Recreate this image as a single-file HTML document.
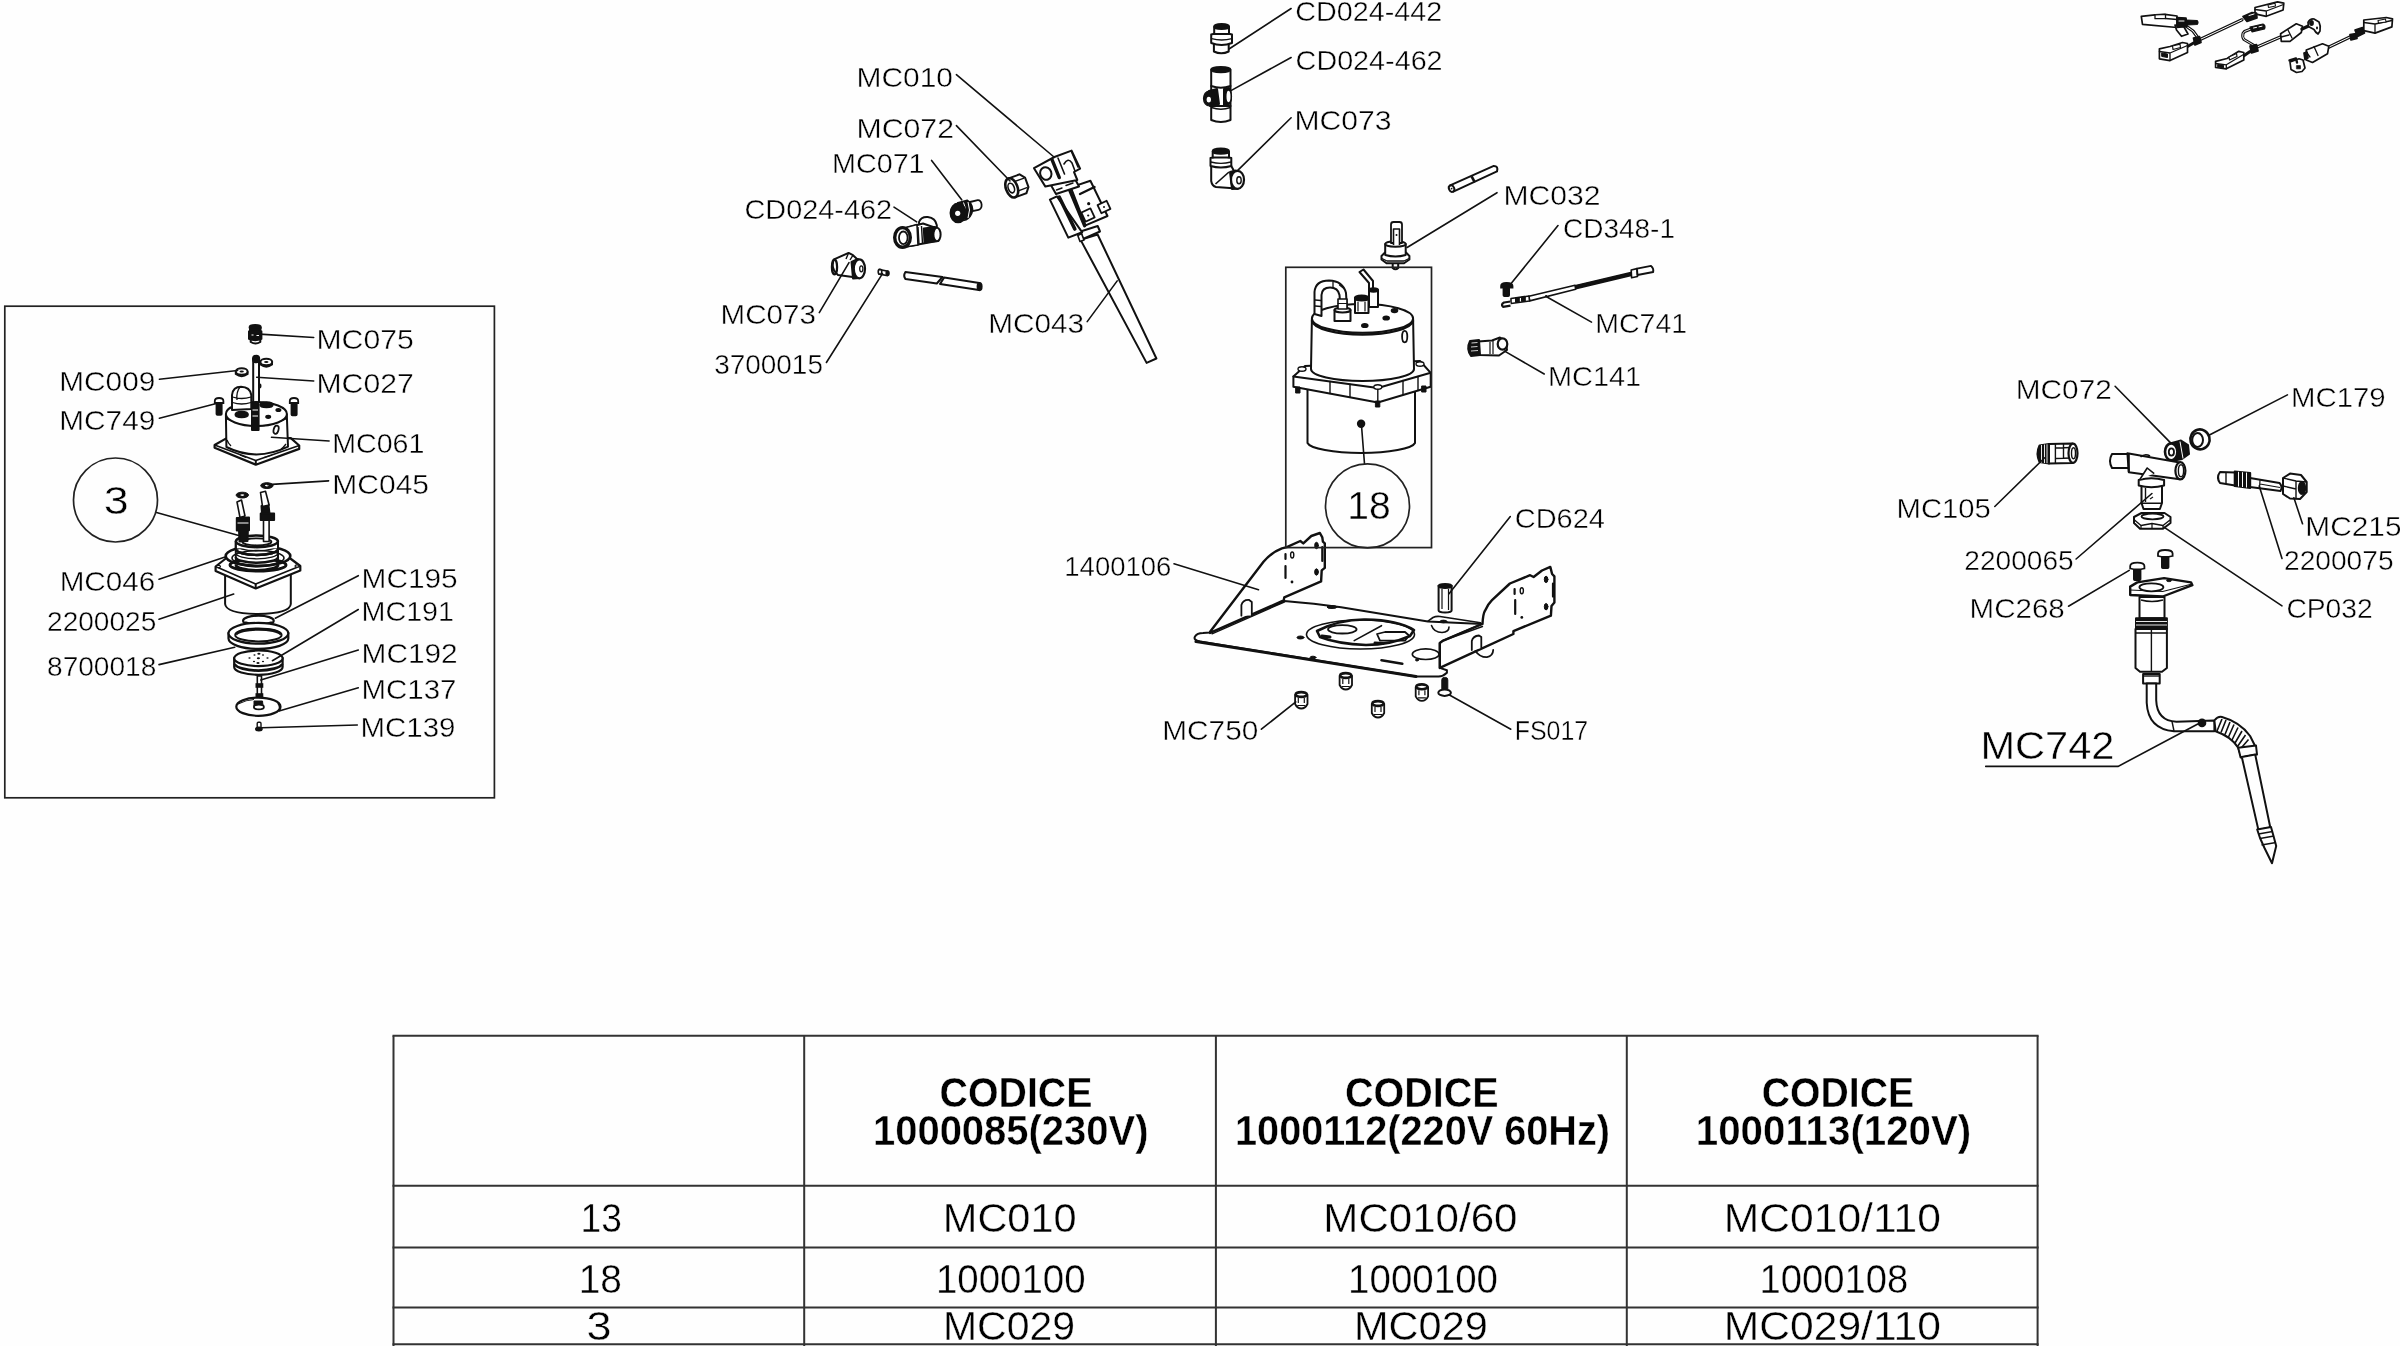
<!DOCTYPE html>
<html><head><meta charset="utf-8"><title>Exploded parts diagram</title>
<style>
html,body{margin:0;padding:0;background:#fefefe;}
body{width:2400px;height:1346px;overflow:hidden;}
svg{display:block;will-change:transform;}
text{font-family:"Liberation Sans",sans-serif;fill:#000;stroke:#fff;stroke-width:0.4px;paint-order:fill;}
.l{font-size:27.6px;}
.b{font-size:38.5px;}
.th{font-size:42px;font-weight:bold;}
.td{font-size:41px;}
</style></head><body>
<svg width="2400" height="1346" viewBox="0 0 2400 1346">
<rect width="2400" height="1346" fill="#fefefe"/>

<g id="boiler" stroke="#111" stroke-width="2" fill="#fff" stroke-linejoin="round" stroke-linecap="round">
 <!-- lower cylinder -->
 <path d="M1307.5,388 L1307.5,443 A54,11 0 0 0 1415,443 L1415,388 Z"/>
 <!-- flange -->
 <path d="M1293.4,376.5 L1305,366 L1420,361 L1430.7,372.8 L1430.7,386.7 L1377.8,402.5 L1293.4,386.7 Z"/>
 <path d="M1293.4,376.5 L1377.8,388 L1430.7,372.8" fill="none"/>
 <path d="M1377.8,388 L1377.8,402.5 M1330,381.5 L1330,393.5 M1350,384.3 L1350,397 M1403,380.5 L1403,394.5 M1418,376.5 L1418,390.5" fill="none" stroke-width="1.4"/>
 <ellipse cx="1302" cy="369" rx="4" ry="2.2" stroke-width="1.4"/>
 <ellipse cx="1420" cy="364" rx="4" ry="2.2" stroke-width="1.4"/>
 <ellipse cx="1377.8" cy="387" rx="4" ry="2.2" stroke-width="1.4"/>
 <rect x="1296" y="387" width="4" height="6" fill="#111" stroke-width="1"/>
 <rect x="1375.8" y="401" width="4" height="6" fill="#111" stroke-width="1"/>
 <rect x="1422" y="386" width="4" height="6" fill="#111" stroke-width="1"/>
 <!-- upper cylinder -->
 <path d="M1311.9,319 L1311,369 A51.5,12 0 0 0 1414,369 L1413.1,319 Z"/>
 <ellipse cx="1362.5" cy="318.4" rx="50.6" ry="14.4"/>
 <path d="M1312,321 A50.6,14.4 0 0 0 1413,321" fill="none" stroke-width="2.4"/>
 <ellipse cx="1404.7" cy="336.6" rx="2.6" ry="5.8" stroke-width="1.8"/>
 <ellipse cx="1394.5" cy="310.6" rx="2.8" ry="1.6" fill="#111"/>
 <ellipse cx="1386.2" cy="318" rx="2.8" ry="1.6" fill="#111"/>
 <ellipse cx="1364.8" cy="325.5" rx="2.8" ry="1.6" fill="#111"/>
 <!-- loop terminal -->
 <path d="M1314.5,314 L1314.5,292 Q1315.5,280.5 1329,280.5 Q1343,281 1346,293 L1347,309 L1340.5,309 L1339.5,295 Q1338,287.5 1330,287.5 Q1322,287.5 1321.5,295 L1321.5,316 Z" stroke-width="2"/>
 <path d="M1315,300 L1321,300.5 M1315,306 L1321,306.5 M1333,282 L1333,288 M1339.5,285 L1344.5,289" fill="none" stroke-width="1.3"/>
 <path d="M1334.5,310 L1350.5,310 L1350.5,321 L1334.5,321 Z"/>
 <ellipse cx="1342.5" cy="310" rx="8" ry="2.5"/>
 <path d="M1338,299 L1347,299 L1347,309 L1338,309 Z" stroke-width="1.6"/>
 <path d="M1338,303.5 L1347,303.5" fill="none" stroke-width="1.2"/>
 <!-- middle nut -->
 <path d="M1355,298 L1368.5,298 L1368.5,313 L1355,313 Z"/>
 <ellipse cx="1361.7" cy="298" rx="6.8" ry="2.5" fill="#111"/>
 <path d="M1358,302 L1358,311 M1365,302 L1365,311" fill="none" stroke-width="1.2"/>
 <!-- right terminal strip -->
 <path d="M1359.5,272 L1363.5,269.5 L1373,281 L1373,295 L1369,297 L1369,283 Z"/>
 <path d="M1369,290 L1378,290 L1378,307 L1369,307 Z"/>
 <ellipse cx="1373.5" cy="290" rx="4.5" ry="1.8" fill="#111"/>
 <!-- dot -->
 <circle cx="1361.1" cy="423.8" r="4.2" fill="#111" stroke="none"/>
</g>
<g id="thermostat" stroke="#111" stroke-width="2" fill="#fff" stroke-linejoin="round">
 <path d="M1392.7,262 L1392.7,268 Q1395.5,270.5 1398.2,268 L1398.2,262 Z"/>
 <path d="M1381.5,256 L1385,252.5 L1406,252.5 L1409.4,256 L1409.4,259.5 L1404,263.3 L1386.5,263.3 L1381.5,259.5 Z"/>
 <path d="M1382,258.5 L1387,261 L1404,261 L1409,258.5" fill="none" stroke-width="1.3"/>
 <path d="M1385.2,244 L1385.2,255 Q1395.5,258 1405.7,255 L1405.7,244 Z"/>
 <ellipse cx="1395.5" cy="244" rx="10.2" ry="2.8"/>
 <path d="M1391,243 L1391,224.5 Q1391,222 1393.5,222 L1399.5,222 Q1402,222 1402,224.5 L1402,243 Z" stroke-width="1.8"/>
 <path d="M1393.5,245 L1393.5,229 L1399.5,229 L1399.5,245" stroke-width="1.6"/>
 <circle cx="1396.5" cy="235" r="1" fill="#111" stroke="none"/>
</g>

<g id="harness" stroke="#111" stroke-width="1.7" fill="#fff" stroke-linejoin="round" stroke-linecap="round">
 <!-- wires (double lines) -->
 <g fill="none">
  <path d="M2186,26 L2193,31 L2198.5,38.5" stroke-width="3.2"/>
  <path d="M2186,26 L2193,31 L2198.5,38.5" stroke="#fff" stroke-width="1"/>
  <path d="M2199,40 L2242,19.8" stroke-width="3.2"/>
  <path d="M2199,40 L2242,19.8" stroke="#fff" stroke-width="1"/>
  <path d="M2187.5,46.5 L2197,41" stroke-width="3"/>
  <path d="M2256,47.5 L2281.5,36.5" stroke-width="3.2"/>
  <path d="M2256,47.5 L2281.5,36.5" stroke="#fff" stroke-width="1"/>
  <path d="M2255,46 L2244,39.5 Q2242,37 2243,33.5 L2244.5,31.5 L2251,29" stroke-width="3"/>
  <path d="M2255,46 L2244,39.5 Q2242,37 2243,33.5 L2244.5,31.5 L2251,29" stroke="#fff" stroke-width="0.9"/>
  <path d="M2328,47.5 L2351,36.5" stroke-width="3.2"/>
  <path d="M2328,47.5 L2351,36.5" stroke="#fff" stroke-width="1"/>
  <path d="M2243.5,56 L2250,51.5" stroke-width="3"/>
 </g>
 <!-- junction sleeves -->
 <path d="M2193.5,38 L2199.5,36.5 L2201,42.5 L2195,45 Z" fill="#111"/>
 <path d="M2250,46 L2256.5,44.5 L2258,51 L2251.5,53 Z" fill="#111"/>
 <path d="M2350,34.5 L2356,33.5 L2357,38.5 L2351,40 Z" fill="#111"/>
 <!-- connector A -->
 <path d="M2141.3,16.3 L2155,14.8 L2165,14.4 L2177,16 L2177,27.5 L2142.5,24.4 Z"/>
 <path d="M2155,14.8 L2165.5,14.4 L2165.5,18.5 L2155,18.7 Z" stroke-width="1.3"/>
 <path d="M2165.5,18.5 L2177,19.5" fill="none" stroke-width="1.3"/>
 <path d="M2175,25 L2184,27 L2188,34 L2181.5,36.3 L2176.5,30 Z"/>
 <path d="M2177,17.5 L2186,18 L2187,26.5 L2177,27.5 Z" fill="#111"/>
 <path d="M2186,20 L2197,20.5 Q2199,22.5 2197,24.5 L2187,25 Z" fill="#111" stroke-width="1.2"/>
 <path d="M2179,21 L2184,21" stroke="#fff" stroke-width="1"/>
 <!-- connector B -->
 <path d="M2159.4,48.8 L2170,46.5 L2182.5,42.5 L2187.5,43.5 L2187.5,52.5 L2170,60.6 L2159.4,58.8 Z"/>
 <path d="M2159.4,51.5 L2170,53 L2187.5,45.5 M2170,53 L2170,60.5" fill="none" stroke-width="1.3"/>
 <path d="M2172.5,46 L2180,44.2 L2180.5,47.5 L2173,49.5 Z" stroke-width="1.2"/>
 <path d="M2162,53 L2167.5,54 L2167.5,57.5 L2162,56.5 Z" fill="#111" stroke-width="1"/>
 <!-- connector C -->
 <path d="M2255,7.5 L2277.5,1.9 L2283.8,3.1 L2283.1,10 L2266.3,16.3 L2255,13.8 Z"/>
 <path d="M2255,9.5 L2266.3,11 L2283.5,4.5 M2266.3,11 L2266.3,16.3" fill="none" stroke-width="1.3"/>
 <path d="M2268,5 L2275,3.3 L2275.5,6 L2268.5,7.5 Z" stroke-width="1.1"/>
 <path d="M2243,16.5 L2252,12.5 L2256.5,13 L2257,18 L2247,21.5 Z" fill="#111"/>
 <path d="M2249,15.5 L2254,14" stroke="#fff" stroke-width="1"/>
 <!-- connector D -->
 <path d="M2215.6,61.3 L2227,58.5 L2238.8,51.3 L2243.8,52.5 L2243.8,60 L2226.3,68.8 L2215.6,67.5 Z"/>
 <path d="M2215.6,63.5 L2226.3,64.8 L2243.5,54.5 M2226.3,64.8 L2226.3,68.8" fill="none" stroke-width="1.3"/>
 <path d="M2229,57 L2236.5,53.5 L2237,56.5 L2229.5,60 Z" stroke-width="1.2"/>
 <path d="M2218,64.5 L2223.5,65.3 L2223.5,67.8 L2218,67 Z" fill="#111" stroke-width="1"/>
 <!-- small tabs (harness 2) -->
 <path d="M2250,27 L2263,24 Q2266,25.5 2264.5,29 L2252,31.8 Z" fill="#111" stroke-width="1.2"/>
 <path d="M2253.5,28 L2256.5,27.4 M2259,26.8 L2262,26.2" stroke="#fff" stroke-width="1"/>
 <!-- sleeve E -->
 <path d="M2280.6,33.8 L2296.3,23.8 L2302.5,26.3 L2301.3,32.5 L2290,41.3 L2281.3,41.3 Z"/>
 <path d="M2288,30 L2292,38 M2281,37 L2289,35" fill="none" stroke-width="1.3"/>
 <path d="M2302,29 L2308.5,26" fill="none" stroke-width="3.4"/>
 <!-- ring terminal -->
 <path d="M2308,22.5 Q2310,18.5 2314,19 L2319,22 Q2321,26 2320,31 L2318,34 Q2315.5,32.5 2314,29.5 L2308.5,26.5 Z"/>
 <ellipse cx="2311.5" cy="23" rx="2.4" ry="3" fill="#111" stroke="none"/>
 <ellipse cx="2317" cy="28" rx="1" ry="1.4" fill="#111" stroke="none"/>
 <!-- harness 3 sleeve -->
 <path d="M2306.3,50 L2322.5,43.8 L2328.8,46.3 L2327.5,53.8 L2312.5,62.5 L2306.3,60 Z"/>
 <path d="M2314,46.5 L2318,55.5 M2306.3,52 L2310,57" fill="none" stroke-width="1.3"/>
 <path d="M2304,53 L2307,52 L2308,58 L2305,59.5 Z" fill="#111"/>
 <!-- ring tab -->
 <path d="M2290,62 L2299,58.8 L2303,60 L2305,68 L2302,71.5 L2296.5,72.5 L2291,69.5 Z"/>
 <rect x="2296.8" y="65.6" width="3.6" height="3.2" fill="#111" stroke-width="0.8"/>
 <path d="M2289.5,60.5 L2296,58.5 L2297,62.5" fill="none" stroke-width="2.4"/>
 <!-- connector F -->
 <path d="M2363.8,20 L2386.3,17.5 L2392.5,18.8 L2391.9,26.9 L2375,33.1 L2363.8,30.6 Z"/>
 <path d="M2363.8,22.5 L2375,24 L2392,20.5 M2375,24 L2375,33" fill="none" stroke-width="1.3"/>
 <path d="M2378,20.5 L2385.5,19 L2386,22 L2378.5,23 Z" stroke-width="1.1"/>
 <path d="M2355,30 L2362.5,27.5 L2364.5,33 L2357.5,36.5 Z" fill="#111"/>
</g>

<!-- MC075 nipple -->
<g stroke="#111" stroke-width="2" fill="#fff" stroke-linejoin="round">
 <path d="M250.7,339 L250.7,342 Q255.5,345 260.3,342 L260.3,339 Z"/>
 <path d="M249,331.5 L249,338.9 Q255.2,341.5 261.4,338.9 L261.4,331.5 Q255.2,329 249,331.5 Z" fill="#111"/>
 <path d="M251.5,335 L253.5,335 M256.5,335.5 L259,335.5" stroke="#fff" stroke-width="1.2"/>
 <path d="M250,327.6 L250,331 L260.4,331 L260.4,327.6 Z"/>
 <ellipse cx="255.2" cy="327.4" rx="5.6" ry="2.3" fill="#111"/>
</g>
<!-- MC027 rod -->
<g stroke="#111" stroke-width="2" fill="#fff">
 <path d="M253.2,359 L253.2,404 L259,404 L259,359 Z"/>
 <rect x="253" y="355.8" width="6.2" height="6.5" rx="3" fill="#111"/>
 <ellipse cx="260" cy="386" rx="1.5" ry="2.4" fill="#111" stroke="none"/>
</g>
<!-- nuts -->
<g stroke="#111" stroke-width="2" fill="#fff">
 <path d="M235.8,371.5 L235.8,374 Q241.7,378.5 247.6,374 L247.6,371.5" />
 <ellipse cx="241.7" cy="371.5" rx="5.9" ry="3.2"/>
 <ellipse cx="241.7" cy="371.5" rx="2.2" ry="1" fill="#111" stroke="none"/>
 <path d="M260.5,362 L260.5,364.5 Q266.3,369 272,364.5 L272,362" />
 <ellipse cx="266.3" cy="362" rx="5.9" ry="3.2"/>
 <ellipse cx="266.3" cy="362" rx="2.2" ry="1" fill="#111" stroke="none"/>
</g>
<!-- MC749 screws -->
<g stroke="#111" stroke-width="1.6" fill="#111">
 <path d="M214.8,401 Q214.8,398 219.1,398 Q223.4,398 223.4,401 L223.4,403 L214.8,403 Z" fill="#fff" stroke-width="1.8"/>
 <rect x="216.4" y="403" width="5.4" height="12" rx="1"/>
 <path d="M289.8,401 Q289.8,398 294,398 Q298.2,398 298.2,401 L298.2,403 L289.8,403 Z" fill="#fff" stroke-width="1.8"/>
 <rect x="291.4" y="403" width="5.4" height="12.5" rx="1"/>
</g>
<!-- MC061 body -->
<g stroke="#111" stroke-width="2" fill="#fff" stroke-linejoin="round">
 <path d="M214.6,445 L227.6,437.6 L290.8,438.2 L299.2,445.5 L299.2,448.9 L255.8,464.7 L214.6,447.8 Z" stroke-width="2.2"/>
 <path d="M214.6,445 L255.8,460.5 L299.2,445.5" fill="none" stroke-width="1.6"/>
 <path d="M255.8,460.5 L255.8,464.7" fill="none" stroke-width="2"/>
 <path d="M240,455 L246,457.5 M264,457.5 L272,455" fill="none" stroke-width="1.3"/>
 <path d="M225.9,414.5 L226.4,447 Q256.5,462 288,446.7 L286.8,414.5 Z"/>
 <path d="M226,418 Q256.5,433 286.8,418" fill="none" stroke-width="2.4"/>
 <ellipse cx="256.4" cy="414" rx="30.5" ry="12"/>
 <path d="M231,446 Q228,443 227,440 M286,444 Q283,448 281,449" fill="none" stroke-width="1.3"/>
 <ellipse cx="276.1" cy="429.7" rx="2.4" ry="4.2" transform="rotate(15 276.1 429.7)" stroke-width="1.8"/>
 <!-- elbow dome -->
 <path d="M232,410 L232,395 Q233,386.8 241,386.8 Q250,387 251.3,395 L251.3,409 Z"/>
 <path d="M232.5,397 Q241.5,400 251,397 M232.5,402.5 Q241.5,405.5 251,402.5 M240,387 Q236,392 237,400" fill="none" stroke-width="1.3"/>
 <ellipse cx="241.7" cy="414.5" rx="6.2" ry="2.8" fill="#111"/>
 <ellipse cx="266.5" cy="404.7" rx="6.2" ry="2.5" fill="#111"/>
 <ellipse cx="278.4" cy="410" rx="2" ry="1.1" fill="#111"/>
 <ellipse cx="268.2" cy="416.8" rx="2" ry="1.1" fill="#111"/>
 <path d="M252,404 L252,430 L258.6,430 L258.6,404 Z" fill="#111"/>
 <path d="M252.5,410 L258,410 M252.5,416 L258,416" stroke="#fff" stroke-width="1.2"/>
</g>

<!-- Heater assembly: cylinder 2200025 -->
<g stroke="#111" stroke-width="2" fill="#fff" stroke-linejoin="round">
 <path d="M225.1,574 L225.1,604 Q226,613.5 258,614 Q290,613.5 290.8,604 L290.8,574 Z"/>
 <!-- flange -->
 <path d="M215.6,566.5 L229,556 L287,556 L300.3,566 L300.3,570.5 L255.7,588.5 L215.6,571 Z" stroke-width="2.2"/>
 <path d="M215.6,566.5 L255.7,584 L300.3,566" fill="none" stroke-width="1.6"/>
 <path d="M255.7,584 L255.7,588.5" fill="none"/>
 <ellipse cx="218.5" cy="566.5" rx="2" ry="1.2" stroke-width="1.2"/>
 <ellipse cx="297" cy="566" rx="2" ry="1.2" stroke-width="1.2"/>
 <!-- gasket MC046 -->
 <ellipse cx="258" cy="556" rx="32.3" ry="10" stroke-width="2.6"/>
 <ellipse cx="258" cy="558" rx="26" ry="7.5" fill="none" stroke-width="1.6"/>
 <ellipse cx="258" cy="565" rx="28" ry="6" fill="none" stroke-width="3"/>
 <!-- coil -->
 <path d="M236,564.7 A21,5.8 0 0 0 278,564.7" fill="none" stroke-width="3"/>
 <path d="M236,561 A21,5.8 0 0 0 278,561" fill="none" stroke-width="1.4"/>
 <path d="M235.8,541.3 L235.8,564.7 M278,541.3 L278,564.7" fill="none"/>
 <path d="M235.8,556.9 A21,5.8 0 0 0 278,556.9" fill="#fff" stroke-width="2.4"/>
 <path d="M235.8,553 A21,5.8 0 0 0 278,553" fill="none" stroke-width="1.4"/>
 <path d="M235.8,549.1 A21,5.8 0 0 0 278,549.1" fill="none" stroke-width="2.4"/>
 <path d="M235.8,545 A21,5.8 0 0 0 278,545" fill="none" stroke-width="1.4"/>
 <rect x="236.6" y="541.3" width="40.6" height="7" fill="#fff" stroke="none"/>
 <path d="M235.8,541.3 L235.8,549 M278,541.3 L278,549" fill="none" stroke-width="2"/>
 <path d="M235.8,549.1 A21,5.8 0 0 0 278,549.1" fill="none" stroke-width="2.4"/>
 <ellipse cx="256.9" cy="541.3" rx="21" ry="5.8" stroke-width="2.6"/>
 <ellipse cx="256.9" cy="541.8" rx="14.5" ry="3.5" stroke-width="1.8"/>
 <!-- left terminal -->
 <path d="M237,502 L241.5,500 L245,516 L240,517.5 Z" stroke-width="1.6"/>
 <path d="M236.8,518 L249,517.5 L249,530.2 L236.8,530.5 Z" fill="#111"/>
 <path d="M239,530 L247.9,530 L247.5,541 L239.5,541.5 Z" fill="#111"/>
 <path d="M237.5,523 L248.5,523" stroke="#fff" stroke-width="1"/>
 <ellipse cx="242.3" cy="495.1" rx="6.2" ry="2.9" fill="#111" stroke-width="1"/>
 <ellipse cx="242.3" cy="495.1" rx="2" ry="0.8" fill="#fff" stroke="none"/>
 <!-- right terminal -->
 <path d="M263.5,520 L263.5,541.5 L269.1,541.5 L269.1,520 Z" stroke-width="1.6"/>
 <path d="M260.7,513.5 L274.1,513.5 L274.1,520.1 L260.7,520.1 Z" fill="#111"/>
 <path d="M261.5,506 L268.5,505 L269.5,513.5 L262,513.5 Z" fill="#111"/>
 <path d="M260.5,492.5 L265.5,491.2 L269.1,505 L262.5,506.5 Z" stroke-width="1.6"/>
 <ellipse cx="266.9" cy="485.6" rx="6.2" ry="2.9" fill="#111" stroke-width="1"/>
 <ellipse cx="266.9" cy="485.6" rx="2" ry="0.8" fill="#fff" stroke="none"/>
</g>
<!-- MC195 small ring -->
<g stroke="#111" stroke-width="2.2" fill="#fff">
 <ellipse cx="258.4" cy="620.8" rx="15.3" ry="5.2"/>
 <path d="M245,622.5 Q258.4,627 272,622.5" fill="none" stroke-width="2.6"/>
</g>
<!-- 8700018 big ring -->
<g stroke="#111" stroke-width="2.2" fill="#fff">
 <path d="M228.5,633.3 L228.5,638.5 A29.9,10.4 0 0 0 288.3,638.5 L288.3,633.3 Z"/>
 <ellipse cx="258.4" cy="633.3" rx="29.9" ry="10.4"/>
 <ellipse cx="258.4" cy="634.9" rx="23.2" ry="6.5" stroke-width="2"/>
 <path d="M236,634.5 A23,6.5 0 0 1 281,634.5" fill="none" stroke-width="2.6"/>
</g>
<!-- MC191 disk -->
<g stroke="#111" stroke-width="2.2" fill="#fff">
 <path d="M234.2,658.3 L234.2,667 A24.2,7.8 0 0 0 282.6,667 L282.6,658.3 Z"/>
 <path d="M234.5,664 A24.2,7.8 0 0 0 282.3,664" fill="none" stroke-width="2.8"/>
 <ellipse cx="258.4" cy="658.3" rx="24.2" ry="7.8"/>
 <g fill="#111" stroke="none">
  <ellipse cx="258.4" cy="658.3" rx="1.6" ry="1"/>
  <ellipse cx="258.9" cy="653.8" rx="1.6" ry="1"/>
  <ellipse cx="258" cy="663" rx="1.6" ry="1"/>
  <ellipse cx="249.5" cy="658" rx="1.2" ry="0.8"/>
  <ellipse cx="267.5" cy="658" rx="1.2" ry="0.8"/>
  <ellipse cx="254.5" cy="655" rx="1.1" ry="0.7"/>
  <ellipse cx="263" cy="655" rx="1.1" ry="0.7"/>
  <ellipse cx="254" cy="661.5" rx="1.1" ry="0.7"/>
  <ellipse cx="263" cy="661.5" rx="1.1" ry="0.7"/>
 </g>
</g>
<!-- MC192 stem -->
<g stroke="#111" stroke-width="1.6" fill="#fff">
 <path d="M257.3,676 L257.3,697 L261.5,697 L261.5,676 Z"/>
 <rect x="256.3" y="684" width="6.2" height="3" fill="#111"/>
 <rect x="256.3" y="694" width="6.2" height="3.5" fill="#111"/>
</g>
<!-- MC137 disk -->
<g stroke="#111" stroke-width="2.2" fill="#fff">
 <ellipse cx="258.4" cy="706.7" rx="22.1" ry="9.1"/>
 <path d="M238,704 Q246,700 254,699.5" fill="none" stroke-width="1.2"/>
 <path d="M278,703 Q281,707 279,711" fill="none" stroke-width="2"/>
 <path d="M254,701 L262.5,701 L263,706 L254,706 Z" fill="#111" stroke-width="1"/>
 <ellipse cx="258.9" cy="707" rx="5" ry="2.4" stroke-width="1.8"/>
</g>
<!-- MC139 screw -->
<g stroke="#111" stroke-width="1.4" fill="#fff">
 <rect x="257.2" y="722.3" width="3.8" height="6" rx="1.2"/>
 <ellipse cx="258.9" cy="729" rx="3.2" ry="1.8" fill="#111"/>
</g>

<g id="plate" stroke="#111" stroke-width="2" fill="#fff" stroke-linejoin="round" stroke-linecap="round">
 <!-- main plate -->
 <path d="M1210,632.5 L1284.3,601 L1300,602.5 L1313.8,603.7 L1341.1,607.3 L1427.9,621.6 L1482.5,623.9 L1443.3,640.6 L1439.8,643 L1439.8,667.9 L1446.9,670.3 L1446.9,672.7 Q1443,676.5 1438.6,676.5 L1416,676.5 L1200,641.5 Q1193,640 1195,636.5 Q1197,633 1203,633 Z" stroke-width="2"/>
 <path d="M1196,641.5 L1416,676.5" fill="none" stroke-width="3"/>
 <!-- left bracket -->
 <path d="M1210.1,631.7 L1263.5,561.8 Q1272,552 1281.9,548.3 L1286.8,547.1 L1300.3,541 L1303.3,543.4 L1311.3,536 L1319.9,533 L1322.3,537.3 L1322.9,541.6 L1324.8,543.4 L1324.8,567.9 L1321.7,570.4 L1321.1,581.4 L1284.3,597.3 L1283.7,600.4 L1210.1,632.9 Z" stroke-width="2.4"/>
 <path d="M1212,633.8 L1284.3,602" fill="none" stroke-width="1.4"/>
 <path d="M1241.4,615.7 L1241.4,605 Q1243,599.5 1248.8,599.8 L1251.8,602 L1251.8,615.5" fill="#fff" stroke-width="1.8"/>
 <ellipse cx="1316.5" cy="545.5" rx="1.8" ry="3.2" fill="#111" stroke-width="1"/>
 <ellipse cx="1316.5" cy="572" rx="1.8" ry="3.2" fill="#111" stroke-width="1"/>
 <ellipse cx="1292.2" cy="555" rx="1.6" ry="3" stroke-width="1.4"/>
 <path d="M1285.5,554 L1285.5,559 M1285.5,566 L1285.5,578 M1322.3,547 L1322.3,561" fill="none" stroke-width="2.2"/>
 <circle cx="1292" cy="582" r="1.4" fill="#111" stroke="none"/>
 <!-- right bracket -->
 <path d="M1482.5,623.9 Q1483,614 1484.9,610.9 Q1488,604 1492,600.2 L1509.9,583.5 L1530.1,575.2 L1533.6,577 L1542,570.5 L1550.3,566.9 L1552.1,574 L1554.4,576.4 L1554.4,602.5 L1551.5,606.1 L1550.9,615.6 L1513.4,631.1 L1513.4,634 L1470.7,653.6 L1439.8,667.9 L1439.8,643 L1443.3,640.6 Z" stroke-width="2.4"/>
 <path d="M1443.3,640.6 L1482.5,626.5" fill="none" stroke-width="1.4"/>
 <path d="M1471.8,650 L1471.8,641 Q1473,636 1479,635.5 L1481.3,637 L1481.3,648" fill="#fff" stroke-width="1.8"/>
 <ellipse cx="1546.1" cy="579.4" rx="1.8" ry="3.2" fill="#111" stroke-width="1"/>
 <ellipse cx="1546.1" cy="606.7" rx="1.8" ry="3.2" fill="#111" stroke-width="1"/>
 <ellipse cx="1521.8" cy="590.7" rx="1.6" ry="3" stroke-width="1.4"/>
 <path d="M1514.6,589 L1514.6,594 M1515.2,600 L1515.2,614 M1553,583.5 L1553,596.6" fill="none" stroke-width="2.2"/>
 <circle cx="1521.8" cy="617.4" r="1.4" fill="#111" stroke="none"/>
 <path d="M1475.4,651 Q1480,657.5 1487,657.2 Q1493,656 1493.2,650" fill="none" stroke-width="1.8"/>
 <!-- plate features -->
 <ellipse cx="1360.5" cy="634.5" rx="54" ry="14.5" fill="none" stroke-width="1.6"/>
 <path d="M1317,631 Q1340,619 1366,619.5 Q1398,620 1414,630 L1410,636 Q1390,645 1366,645 Q1338,644 1320,637 Z" fill="none" stroke-width="2.6"/>
 <ellipse cx="1342.3" cy="629.3" rx="14.3" ry="4.2" fill="none" stroke-width="1.8"/>
 <path d="M1377,634 L1385,632 L1405,632 L1409,635.5 L1405,640.6 L1380,640.6 Z" fill="none" stroke-width="1.8"/>
 <path d="M1354.2,640.6 L1381.5,625.7" fill="none" stroke-width="1.6"/>
 <path d="M1322,636 L1330,637 M1375,643 L1383,643.5" fill="none" stroke-width="3"/>
 <ellipse cx="1425.7" cy="654.2" rx="13.4" ry="5.3" fill="none" stroke-width="1.6"/>
 <path d="M1428,621.2 L1433,617.5 Q1436,616 1440,616.5 L1480.5,622.8" fill="none" stroke-width="1.6"/>
 <path d="M1431.5,625.5 Q1434,632.5 1442,632.5 Q1449,632 1449,627" fill="none" stroke-width="1.6"/>
 <ellipse cx="1443.5" cy="621.5" rx="3.5" ry="1.4" fill="#111" stroke-width="0.8"/>
 <path d="M1381.5,660.2 L1402.3,663.8" fill="none" stroke-width="2.6"/>
 <ellipse cx="1300.5" cy="637.5" rx="3.5" ry="1.5" fill="#111" stroke-width="1"/>
 <ellipse cx="1313" cy="657.5" rx="3" ry="1.3" fill="#111" stroke-width="1"/>
 <ellipse cx="1417" cy="660" rx="1.5" ry="1" fill="#111" stroke-width="1"/>
 <ellipse cx="1332" cy="607" rx="5" ry="1.5" fill="#111" stroke-width="1"/>
</g>
<!-- CD624 spacer -->
<g stroke="#111" stroke-width="2" fill="#fff">
 <path d="M1438.6,586 L1438.6,610.5 A6.5,2 0 0 0 1451.6,610.5 L1451.6,586 Z"/>
 <ellipse cx="1445.1" cy="586" rx="6.5" ry="2" fill="#111"/>
 <path d="M1442,589 L1442,609 M1448.5,589 L1448.5,610" stroke-width="1.2" fill="none"/>
</g>
<!-- nuts MC750 -->
<g stroke="#111" stroke-width="1.8" fill="#fff">
 <g transform="translate(1345.8,681)"><path d="M-6.2,-5 L-6.2,4 Q-4,8.5 0,8.5 Q4,8.5 6.2,4 L6.2,-5 Q0,-9 -6.2,-5 Z"/><ellipse cx="0" cy="-5.5" rx="5.6" ry="2.4" fill="#fff" stroke-width="2.6"/><path d="M-3,-2 L-3,3 M3,-2 L3,3 M-4,5.5 L4,5.5" fill="none" stroke-width="1.2"/></g>
 <g transform="translate(1301.3,700)"><path d="M-6.2,-5 L-6.2,4 Q-4,8.5 0,8.5 Q4,8.5 6.2,4 L6.2,-5 Q0,-9 -6.2,-5 Z"/><ellipse cx="0" cy="-5.5" rx="5.6" ry="2.4" fill="#fff" stroke-width="2.6"/><path d="M-3,-2 L-3,3 M3,-2 L3,3 M-4,5.5 L4,5.5" fill="none" stroke-width="1.2"/></g>
 <g transform="translate(1421.9,692.3)"><path d="M-6.2,-5 L-6.2,4 Q-4,8.5 0,8.5 Q4,8.5 6.2,4 L6.2,-5 Q0,-9 -6.2,-5 Z"/><ellipse cx="0" cy="-5.5" rx="5.6" ry="2.4" fill="#fff" stroke-width="2.6"/><path d="M-3,-2 L-3,3 M3,-2 L3,3 M-4,5.5 L4,5.5" fill="none" stroke-width="1.2"/></g>
 <g transform="translate(1378,709)"><path d="M-6.2,-5 L-6.2,4 Q-4,8.5 0,8.5 Q4,8.5 6.2,4 L6.2,-5 Q0,-9 -6.2,-5 Z"/><ellipse cx="0" cy="-5.5" rx="5.6" ry="2.4" fill="#fff" stroke-width="2.6"/><path d="M-3,-2 L-3,3 M3,-2 L3,3 M-4,5.5 L4,5.5" fill="none" stroke-width="1.2"/></g>
 <!-- FS017 screw -->
 <rect x="1441.8" y="677.4" width="6" height="14" rx="2.5" fill="#111" stroke-width="1"/>
 <ellipse cx="1444.6" cy="692.7" rx="6.3" ry="3.2" fill="#fff" stroke-width="2"/>
</g>

<!-- MC032 pin -->
<g stroke="#111" stroke-width="2" fill="#fff" stroke-linejoin="round">
 <path d="M1450.1,185.4 L1493.8,165.9 Q1498.5,166 1497,171.4 L1453.3,191.7 Z"/>
 <ellipse cx="1451.6" cy="188.6" rx="2.6" ry="3.4" transform="rotate(-24 1451.6 188.6)" stroke-width="2"/>
 <circle cx="1451.6" cy="188.6" r="0.9" fill="#111" stroke="none"/>
 <path d="M1471.6,176.3 L1474.8,182.3" fill="none" stroke-width="2.6"/>
</g>
<!-- CD348-1 screw -->
<g stroke="#111" stroke-width="1.6" fill="#111">
 <path d="M1501,286 Q1501,283 1506.5,282.8 Q1512.6,283 1512.6,286 L1512.6,287.6 L1501,287.6 Z"/>
 <rect x="1503.4" y="287.6" width="5.8" height="8.6" rx="1"/>
</g>
<!-- MC741 cable -->
<g stroke="#111" stroke-width="1.8" fill="#fff" stroke-linejoin="round">
 <path d="M1575,285.6 L1631.9,272.2 L1632.2,275.2 L1575.7,288.8 Z" fill="#111" stroke-width="1.4"/>
 <path d="M1528.9,296.2 L1575,285.3 L1575.7,289.2 L1529.7,300.9 Z" stroke-width="1.6"/>
 <path d="M1545,296 L1547,295.5" fill="none" stroke-width="1"/>
 <path d="M1511,298.5 L1529,296 L1529.5,301 L1511,303.5 Z" stroke-width="1.6"/>
 <rect x="1515.5" y="297.8" width="3.8" height="4.5" fill="#111" stroke-width="1"/>
 <rect x="1521.5" y="297" width="3.8" height="4.5" fill="#111" stroke-width="1"/>
 <path d="M1510.5,301.5 L1504,302.5 Q1500.5,304.5 1503,306.8 L1510.5,305.6" stroke-width="2.2"/>
 <path d="M1631.2,270 L1637,268.6 L1637.5,276.5 L1631.6,277.8 Z" stroke-width="1.6"/>
 <path d="M1637,268.6 L1651,265.8 Q1654,268.5 1653.2,272 L1637.5,275 Z" stroke-width="1.8"/>
</g>
<!-- MC141 elbow -->
<g stroke="#111" stroke-width="2" fill="#fff" stroke-linejoin="round">
 <path d="M1478,341.5 L1492,340.5 L1500,337.5 L1505.5,341 L1507,350 L1499,355.5 L1479,355 Z"/>
 <ellipse cx="1502.5" cy="344" rx="4.8" ry="5.6" stroke-width="2.2"/>
 <path d="M1490,342 L1490,354 M1493,341 L1493,354" fill="none" stroke-width="1.2"/>
 <path d="M1470,341 L1479,340 L1480,355 L1471,356 Q1466,349 1470,341 Z" fill="#111"/>
 <path d="M1471.5,343 L1477.5,342.5 M1471,347 L1477.5,346.5 M1471,351 L1478,350.5" stroke="#fff" stroke-width="0.8"/>
</g>

<!-- MC105 fitting -->
<g stroke="#111" stroke-width="2" fill="#fff" stroke-linejoin="round">
 <path d="M2049,444 L2072.4,443.5 L2072.4,463 L2049,463.5 Z"/>
 <path d="M2055.4,443.8 L2055.4,463.3 M2063.5,443.6 L2063.5,448 L2063.5,458 M2055.4,448 L2072,447.5 M2055.4,458.5 L2072,458" fill="none" stroke-width="1.4"/>
 <path d="M2039.5,445.5 L2049,444 L2049,463.5 L2039.5,462 Q2035.5,453.7 2039.5,445.5 Z" fill="#111"/>
 <path d="M2041.5,445 L2041.5,462.5 M2044.5,444.5 L2044.5,463 M2047,444.3 L2047,463.2" stroke="#fff" stroke-width="0.9"/>
 <ellipse cx="2073" cy="453.3" rx="4.5" ry="9.6" stroke-width="2.2"/>
 <ellipse cx="2073.5" cy="453.3" rx="2" ry="5.5" stroke-width="1.4"/>
</g>
<!-- MC179 ring -->
<g stroke="#111" stroke-width="2.6" fill="#fff">
 <ellipse cx="2200" cy="439.4" rx="9.6" ry="10" transform="rotate(-15 2200 439.4)"/>
 <ellipse cx="2197.6" cy="440" rx="5.4" ry="7" stroke-width="2"/>
</g>
<!-- MC072 nut (right) -->
<g stroke="#111" stroke-width="2" fill="#fff" stroke-linejoin="round">
 <path d="M2170,443.5 L2181,440.5 L2188,445 L2189,454 L2182,459 L2172,461 Z" fill="#111"/>
 <path d="M2180,441.5 L2183,458.5" stroke="#fff" stroke-width="1" fill="none"/>
 <ellipse cx="2171.2" cy="451.8" rx="6.2" ry="8.4" fill="#fff" stroke-width="2.6"/>
 <ellipse cx="2171.4" cy="452" rx="2.6" ry="3.6" stroke-width="1.8"/>
</g>
<!-- Tee body -->
<g stroke="#111" stroke-width="2" fill="#fff" stroke-linejoin="round">
 <path d="M2141.5,484 L2141.5,503 L2143.5,509 L2159.9,509 L2162,503 L2162,484 Z"/>
 <path d="M2145.5,488 L2145.5,502 M2142,503.3 L2161.5,503.3" fill="none" stroke-width="1.4"/>
 <path d="M2150,499 L2153,497" fill="none" stroke-width="1.2"/>
 <path d="M2138.7,480 L2138.7,485.5 Q2151.4,489 2164.1,485.5 L2164.1,480 Q2151.4,476.5 2138.7,480 Z"/>
 <path d="M2112,454 L2128.8,453.9 L2128.8,468 L2112,468 Q2108,461 2112,454 Z"/>
 <path d="M2127.4,453.2 L2179.7,462.4 L2179.7,479.3 L2128.8,472.2 Z"/>
 <path d="M2128.8,453.5 L2128.8,472" fill="none"/>
 <path d="M2140,479.3 L2147.2,468 L2154.2,473.6" fill="#fff" stroke-width="1.6"/>
 <path d="M2140.5,457 Q2145,453 2150,456" fill="none" stroke-width="1.6"/>
 <ellipse cx="2180.4" cy="470.8" rx="5" ry="8.6" stroke-width="2.2"/>
 <ellipse cx="2181" cy="470.8" rx="2.6" ry="6" stroke-width="1.4"/>
</g>
<!-- CP032 nut -->
<g stroke="#111" stroke-width="2" fill="#fff" stroke-linejoin="round">
 <path d="M2134,517 L2141.5,513 L2164.5,513 L2170.5,517 L2170.5,523 L2163,528.7 L2140,528.7 L2134,523 Z"/>
 <path d="M2134.5,520 L2141,525.5 L2152,523.5 L2163,525.5 L2170,520" fill="none" stroke-width="1.4"/>
 <path d="M2141,525.5 L2141,528.5 M2152,523.5 L2152,528.5 M2163,525.5 L2163,528.5" fill="none" stroke-width="1.2"/>
 <ellipse cx="2152.5" cy="516.5" rx="11" ry="2.8" stroke-width="1.8"/>
</g>
<!-- 2200075 pin -->
<g stroke="#111" stroke-width="2" fill="#fff" stroke-linejoin="round">
 <path d="M2250,478 L2279.5,483 Q2283,486.5 2280.5,491 L2250,487 Z"/>
 <path d="M2260,480 L2259.5,488.5 M2260,484 L2280,487.5" fill="none" stroke-width="1.2"/>
 <path d="M2220,472 L2235,472.5 L2235,485.5 L2220,483 Q2216,477.5 2220,472 Z"/>
 <path d="M2226,472.5 L2226,483.8" fill="none" stroke-width="1.4"/>
 <path d="M2234.7,471.5 L2250.2,473 L2250.2,488 L2234.7,486 Z" fill="#111"/>
 <path d="M2238.5,471.8 L2238.5,486.5 M2242.5,472.2 L2242.5,487 M2246.5,472.6 L2246.5,487.5" stroke="#fff" stroke-width="1"/>
</g>
<!-- MC215 nut -->
<g stroke="#111" stroke-width="2" fill="#fff" stroke-linejoin="round">
 <path d="M2283,478 L2290,473.6 L2301,475 L2306.7,482 L2306.7,492 L2300,499 L2290,498.5 L2283,494 Z"/>
 <path d="M2283,478 L2296,481 L2306.5,482 M2283,486 L2296,489 M2296,481 L2296,498.8" fill="none" stroke-width="1.4"/>
 <ellipse cx="2302" cy="488" rx="3.2" ry="6" fill="#111"/>
</g>
<!-- MC268 screws -->
<g stroke="#111" stroke-width="1.6" fill="#111">
 <rect x="2161.8" y="555" width="6.8" height="13.2" rx="1"/>
 <path d="M2158,553.5 Q2158,550 2165,550 Q2172.6,550 2172.6,553.5 L2172.6,556 Q2165,558 2158,556 Z" fill="#fff" stroke-width="1.8"/>
 <rect x="2133.8" y="567.5" width="6.8" height="12.7" rx="1"/>
 <path d="M2130.2,566 Q2130.2,562.6 2137.3,562.6 Q2144.4,562.6 2144.4,566 L2144.4,568.5 Q2137.3,570.5 2130.2,568.5 Z" fill="#fff" stroke-width="1.8"/>
</g>
<!-- Steam valve & plate -->
<g stroke="#111" stroke-width="2" fill="#fff" stroke-linejoin="round">
 <path d="M2139.5,597 L2139.5,618.3 L2164.5,618.3 L2164.5,597 Z"/>
 <path d="M2130.2,586.6 L2137.3,582.4 L2164.1,578.1 L2191,582.4 L2192.4,585.2 L2162.7,596.5 L2130.2,595 Z" stroke-width="2.4"/>
 <path d="M2130.2,590 L2162.7,591.5 L2192,584" fill="none" stroke-width="1.2"/>
 <ellipse cx="2151.4" cy="587.3" rx="12" ry="4" stroke-width="1.8"/>
 <ellipse cx="2169" cy="580.5" rx="2.5" ry="1.2" fill="#111" stroke-width="0.8"/>
 <path d="M2141,600 Q2152,603 2163,600" fill="none" stroke-width="1.4"/>
 <path d="M2136,618.3 L2166.9,618.3 L2166.9,629 L2136,629 Z" fill="#111"/>
 <path d="M2136,621.5 L2167,621.5 M2136,625 L2167,625" stroke="#fff" stroke-width="0.9"/>
 <path d="M2135.5,629 L2166.9,629 L2166.9,668 L2162,671.8 L2140,671.8 L2135.5,668 Z"/>
 <path d="M2151.4,629 L2151.4,671.8 M2135.5,633 L2167,633" fill="none" stroke-width="1.4"/>
 <path d="M2143.1,674 L2159.7,674 L2159.7,683.6 L2143.1,683.6 Z"/>
 <path d="M2143,676 L2160,676" fill="none" stroke-width="1.4"/>
</g>
<!-- Steam wand tube -->
<g stroke="#111" stroke-width="2" fill="#fff" stroke-linejoin="round">
 <path d="M2146.7,683.6 L2146.7,702.7 Q2148,729 2174,731.2 L2214.4,731.2 L2214.4,720.5 L2176.4,721.7 Q2157,721 2156.2,700.3 L2156.2,683.6 Z"/>
 <path d="M2172,721.5 L2174,731" fill="none" stroke-width="1.4"/>
 <path d="M2214.4,720.5 Q2218,716 2222,717 Q2240,722 2250.1,736 L2256,747.8 L2240.6,755 L2238.2,747.8 Q2232,737 2215.6,731.2 Z"/>
 <path d="M2222,719 L2217,731 M2226,720 L2221,732.5 M2230,722 L2225,734.5 M2234,724.5 L2228.5,737 M2238,727.5 L2232,740 M2242,731 L2235,743 M2245.5,735 L2237.5,746.5 M2248.5,739.5 L2239.5,750" fill="none" stroke-width="1.6"/>
 <path d="M2238.2,747.8 L2256,745.5 L2257,754.5 L2240.6,757.5 Z"/>
 <path d="M2241.8,757 L2258.4,829.9 L2270.3,827.5 L2255.2,754.5 Z"/>
 <path d="M2257.2,829.5 L2271,827 L2273.5,836 L2276.2,846 L2272,863.2 L2264.5,848 L2260,838 Z"/>
 <path d="M2258.5,834 L2272.5,831.5 M2260,838.5 L2274,836 M2261.5,845 L2276,842.5" fill="none" stroke-width="1.4"/>
</g>

<!-- CD024-442 nipple -->
<g stroke="#111" stroke-width="2" fill="#fff" stroke-linejoin="round">
 <path d="M1213.9,44 L1213.9,51.5 Q1221.3,55 1228.7,51.5 L1228.7,44 Z"/>
 <path d="M1211.2,34.5 L1211.2,43 Q1221.6,47 1232,43 L1232,34.5 Q1221.6,31 1211.2,34.5 Z"/>
 <path d="M1211.5,38.6 Q1221.6,41.5 1232,38.6" fill="none" stroke-width="1.4"/>
 <path d="M1214.2,27 L1214.2,34 L1229,34 L1229,27 Z"/>
 <ellipse cx="1221.6" cy="26.5" rx="7.4" ry="2.6" fill="#111"/>
</g>
<!-- CD024-462 tee vertical -->
<g stroke="#111" stroke-width="2" fill="#fff" stroke-linejoin="round">
 <path d="M1211.2,106 L1211.2,120 Q1220.8,124 1230.5,120 L1230.5,106 Z"/>
 <path d="M1211.5,107.5 Q1220.8,111 1230.5,107.5" fill="none" stroke-width="1.6"/>
 <path d="M1211.2,86 L1211.2,106 L1230.5,106 L1230.5,86 Z"/>
 <path d="M1211.2,70 L1211.2,86 Q1220.8,89.5 1230.5,86 L1230.5,70 Z"/>
 <ellipse cx="1220.8" cy="69.6" rx="9.6" ry="2.6" fill="#111"/>
 <path d="M1224,89 L1229,88 Q1232.5,97 1229,104 L1224,105 Z" fill="#111"/>
 <ellipse cx="1228.5" cy="96.5" rx="2.8" ry="6.5" stroke-width="1.6"/>
 <path d="M1209,91 L1217,89 L1219,104 L1210,106 Z" fill="#111"/>
 <ellipse cx="1209.5" cy="98.5" rx="6" ry="7.5" fill="#111" stroke-width="1.2"/>
 <ellipse cx="1208.8" cy="99.6" rx="2.8" ry="3.5" fill="#fff" stroke-width="1.2"/>
</g>
<!-- MC073 top elbow -->
<g stroke="#111" stroke-width="2" fill="#fff" stroke-linejoin="round">
 <path d="M1211.2,166 L1211.2,181 Q1212,186 1216,187 L1236.5,188.5 L1234,171 L1231.3,166 Z"/>
 <path d="M1215.5,184 L1229,172" fill="none" stroke-width="1.6"/>
 <path d="M1210.5,158 L1210.5,166 Q1220.9,169 1231.3,166 L1231.3,158 Q1220.9,155 1210.5,158 Z"/>
 <path d="M1210.8,162 Q1220.9,164.8 1231,162" fill="none" stroke-width="1.4"/>
 <path d="M1212.7,151.5 L1212.7,157.5 L1229,157.5 L1229,151.5 Z"/>
 <ellipse cx="1220.8" cy="151.2" rx="8.1" ry="2.6" fill="#111"/>
 <path d="M1230,172 L1236,170.5 L1238,188.5 L1232,189 Z" fill="#111"/>
 <ellipse cx="1237.5" cy="179.8" rx="6.5" ry="9" stroke-width="2.2"/>
 <ellipse cx="1239" cy="180.3" rx="2.2" ry="3.6" stroke-width="1.4"/>
</g>

<g id="valve" stroke="#111" stroke-width="2" fill="#fff" stroke-linejoin="round" stroke-linecap="round">
 <!-- rod -->
 <path d="M1080.6,239.9 L1146.6,362.9 L1156.4,358.5 L1097.6,234.5 Z"/>
 <!-- ring -->
 <path d="M1080.5,231.5 L1097.7,226 L1100,231.5 L1083,239 Z"/>
 <path d="M1077.8,235.5 L1081.5,233.5 L1084,240 L1080,241.5 Z" stroke-width="1.6"/>
 <!-- left block -->
 <path d="M1049.9,199.6 L1056.9,196.4 L1082.2,232.3 L1068.3,237.6 Z"/>
 <!-- right block -->
 <path d="M1070.8,187.4 L1090.4,180.8 L1107.5,216 L1085.5,225.4 Z"/>
 <path d="M1080,194 L1094.5,187" fill="none" stroke-width="2.4"/>
 <path d="M1059.3,197.2 L1074.8,229" fill="none" stroke-width="3.6"/>
 <path d="M1069.1,189 L1084.6,225.8" fill="none" stroke-width="3.2"/>
 <rect x="1083" y="210" width="10" height="10" transform="rotate(-25 1088 215)" stroke-width="1.8"/>
 <circle cx="1088.2" cy="215.5" r="1.1" fill="#111" stroke="none"/>
 <rect x="1099" y="202.5" width="10" height="9" transform="rotate(-25 1104 207)" stroke-width="1.8"/>
 <circle cx="1104" cy="207" r="1" fill="#111" stroke="none"/>
 <circle cx="1088.7" cy="203.7" r="1.6" fill="#111" stroke="none"/>
 <!-- neck -->
 <path d="M1050.3,184.1 L1074.5,178 L1079,186.5 L1056,194 Z"/>
 <path d="M1056.5,190 L1062,188 M1066,185.5 L1073,183" fill="none" stroke-width="1.4"/>
 <!-- top bracket -->
 <path d="M1034,168.2 L1054.4,157 L1071.6,150.6 L1080.1,168.6 L1074,172 L1077.3,180 L1045.4,186.6 Z"/>
 <ellipse cx="1045.8" cy="173.5" rx="5.6" ry="6.4" transform="rotate(-20 1045.8 173.5)"/>
 <path d="M1052,159.6 L1059.3,177.6" fill="none" stroke-width="3.4"/>
 <path d="M1058,158 L1064.5,174 M1064,164 Q1068,157 1072,163 L1075,171 M1071.6,152 L1078,167" fill="none" stroke-width="1.6"/>
</g>
<!-- MC043 second rod (horizontal) -->
<g stroke="#111" stroke-width="2" fill="#fff" stroke-linejoin="round">
 <path d="M905.4,272.1 L942.5,277 L936.8,283.5 L905.5,279 Q903,276 905.4,272.1 Z"/>
 <path d="M944.2,277.4 L979.3,283.1 L979,290 L940,284 Z"/>
 <ellipse cx="979.6" cy="286.6" rx="2" ry="3.6" fill="#111"/>
</g>
<!-- MC072 nut -->
<g stroke="#111" stroke-width="2" fill="#fff" transform="translate(1015.5,186.5) rotate(-20)">
 <path d="M-3,-10 L8,-10 L12,-5 L12,5 L8,10 L-3,10 Z"/>
 <path d="M-3,-5 L11,-5 M-3,5 L11,5" fill="none" stroke-width="1.4"/>
 <ellipse cx="-4" cy="0" rx="5.8" ry="10" fill="#fff" stroke-width="2.6"/>
 <ellipse cx="-4.5" cy="0" rx="3" ry="5" stroke-width="1.6"/>
</g>
<!-- MC071 fitting -->
<g stroke="#111" stroke-width="2" fill="#fff">
 <path d="M970,202 L977.7,200.2 A3.5,4.8 0 0 1 978.5,209.8 L971,211.5 Z" stroke-width="1.8"/>
 <path d="M958,203 L967,200.5 Q972,203 972.5,210 Q971,217 966,219.5 L958,221.5 Z" fill="#111"/>
 <path d="M963.5,202.5 Q967,210 963.5,220 M968,202 Q971,210 968,218" stroke="#fff" stroke-width="1" fill="none"/>
 <ellipse cx="958.1" cy="212.9" rx="7.8" ry="9.6" fill="#111" stroke-width="1.5"/>
 <circle cx="957.7" cy="213.3" r="2.6" fill="#fff" stroke="none"/>
</g>
<!-- CD024-462 tee (left) -->
<g stroke="#111" stroke-width="2" fill="#fff" stroke-linejoin="round">
 <path d="M919,222 Q921,216.5 927.8,217 Q935.5,218 936.8,225.1 L936.8,232 L920,233 Z"/>
 <path d="M906,228 L923,223.5 L936,228 L938.5,240.7 L907,246.5 Z"/>
 <path d="M923.8,228.5 L935,227 L937,241 L924.5,242.5 Z" fill="#111"/>
 <ellipse cx="937" cy="234.5" rx="3.6" ry="6.8" stroke-width="2"/>
 <path d="M918,227 L919,244.5 M921.5,226 L922.5,243.5" fill="none" stroke-width="1.4"/>
 <path d="M904,228 L917,224.5 L918,245 L905,247 Z" stroke-width="1.6"/>
 <ellipse cx="902.5" cy="237.4" rx="7.8" ry="9.8" stroke-width="3.4"/>
 <ellipse cx="903.3" cy="237.8" rx="4.3" ry="6.3" stroke-width="1.8"/>
</g>
<!-- MC073 (left) elbow -->
<g stroke="#111" stroke-width="2" fill="#fff" stroke-linejoin="round">
 <path d="M834,259.4 L848.6,252.9 L853,255.2 L857,259 L858,277.8 L838,275 Q830,268 834,259.4 Z"/>
 <path d="M848.6,252.9 L846,259 M853,255.2 L850,260" fill="none" stroke-width="1.4"/>
 <ellipse cx="834.5" cy="267" rx="2.6" ry="7.4" fill="none" stroke-width="2.2"/>
 <path d="M851.5,262 L858,259 L860,278 L853,278.5 Z" fill="#111"/>
 <ellipse cx="859.4" cy="268.8" rx="5.6" ry="9.5" stroke-width="2.2"/>
 <ellipse cx="861.3" cy="268.8" rx="1.6" ry="3" stroke-width="1.3"/>
</g>
<!-- 3700015 small pin -->
<g stroke="#111" stroke-width="1.6" fill="#fff">
 <path d="M879.5,269.5 L887.5,271.2 L887,275.5 L879,274 Z"/>
 <ellipse cx="887.6" cy="273.3" rx="1.4" ry="2.2" fill="#111"/>
 <ellipse cx="880" cy="271.8" rx="1.8" ry="2.4" fill="#fff"/>
</g>

<g stroke="#111" stroke-width="1.6" fill="none" stroke-linecap="round">
<line x1="1291.1" y1="8.5" x2="1229" y2="49"/>
<line x1="1291.1" y1="57.5" x2="1230.5" y2="90.9"/>
<line x1="1291.1" y1="117.8" x2="1238" y2="170.1"/>
<line x1="956.4" y1="74.7" x2="1054" y2="157"/>
<line x1="956.4" y1="125.6" x2="1010" y2="181"/>
<line x1="931.6" y1="160.4" x2="961.7" y2="199.8"/>
<line x1="894" y1="207.2" x2="916.7" y2="221.9"/>
<line x1="819.3" y1="312.6" x2="849" y2="262.7"/>
<line x1="826.4" y1="362.5" x2="882.5" y2="273.6"/>
<line x1="1087.2" y1="321.6" x2="1117.2" y2="280.9"/>
<line x1="1497" y1="192.7" x2="1407.1" y2="247.5"/>
<line x1="1558" y1="225.6" x2="1510.7" y2="284"/>
<line x1="1591.5" y1="322.1" x2="1545.7" y2="296.3"/>
<line x1="1544.2" y1="374" x2="1504.6" y2="351.1"/>
<line x1="1510.3" y1="516.6" x2="1449" y2="593.8"/>
<line x1="1174" y1="563.7" x2="1258.5" y2="589.8"/>
<line x1="1261.4" y1="729.2" x2="1295.8" y2="701.9"/>
<line x1="1510.8" y1="729.2" x2="1449" y2="694.8"/>
<line x1="1364.5" y1="463.8" x2="1361.4" y2="424.2"/>
<line x1="2115.1" y1="386.3" x2="2170.4" y2="442.6"/>
<line x1="2287.4" y1="394.9" x2="2209.4" y2="435"/>
<line x1="1994.8" y1="506.5" x2="2044.7" y2="457.8"/>
<line x1="2302.5" y1="523.8" x2="2293.9" y2="497.8"/>
<line x1="2076.1" y1="559" x2="2151.9" y2="493.5"/>
<line x1="2282" y1="558.5" x2="2259.2" y2="485.9"/>
<line x1="2068.5" y1="606.2" x2="2129.2" y2="570.4"/>
<line x1="2282" y1="605.8" x2="2163.9" y2="527.1"/>
<line x1="313.7" y1="337.5" x2="259.4" y2="334.1"/>
<line x1="159.4" y1="379.2" x2="237.6" y2="370.5"/>
<line x1="313.7" y1="381" x2="256.7" y2="377.2"/>
<line x1="159.4" y1="418.2" x2="216.4" y2="403.4"/>
<line x1="329.1" y1="441" x2="271.5" y2="437.3"/>
<line x1="328.6" y1="480.9" x2="267.8" y2="484.6"/>
<line x1="156.5" y1="512.5" x2="239.6" y2="535.7"/>
<line x1="159" y1="579.2" x2="225" y2="557"/>
<line x1="159" y1="619.2" x2="233.7" y2="594.1"/>
<line x1="159" y1="664.6" x2="234.7" y2="647.2"/>
<line x1="358.3" y1="575.7" x2="275.3" y2="618.2"/>
<line x1="358.3" y1="609.5" x2="272.4" y2="660.7"/>
<line x1="358.3" y1="650.1" x2="260.8" y2="680"/>
<line x1="358.3" y1="687.7" x2="279.1" y2="710.9"/>
<line x1="357.3" y1="725" x2="261.7" y2="727.7"/>
<polyline points="1985.7,766.4 2118.1,766.4 2197.8,724"/>
</g>
<circle cx="1361.4" cy="424.2" r="2.8" fill="#111"/>
<circle cx="2202" cy="722.9" r="4.3" fill="#111"/>
<g stroke="#222" stroke-width="1.7" fill="none">
<rect x="4.8" y="306.2" width="489.6" height="491.6"/>
<rect x="1285.8" y="267.3" width="145.7" height="280.3"/>
<circle cx="115.5" cy="500" r="42"/>
<circle cx="1367.5" cy="505.9" r="42"/>
</g>
<g class="l">
<text x="1295.35" y="20.8" textLength="146.88" lengthAdjust="spacingAndGlyphs">CD024-442</text>
<text x="1295.64" y="69.8" textLength="146.98" lengthAdjust="spacingAndGlyphs">CD024-462</text>
<text x="1294.56" y="130" textLength="97.02" lengthAdjust="spacingAndGlyphs">MC073</text>
<text x="856.47" y="87.2" textLength="96.5" lengthAdjust="spacingAndGlyphs">MC010</text>
<text x="856.44" y="138" textLength="97.56" lengthAdjust="spacingAndGlyphs">MC072</text>
<text x="832.06" y="173.1" textLength="92.53" lengthAdjust="spacingAndGlyphs">MC071</text>
<text x="744.54" y="219.3" textLength="147.55" lengthAdjust="spacingAndGlyphs">CD024-462</text>
<text x="720.57" y="324.3" textLength="95.39" lengthAdjust="spacingAndGlyphs">MC073</text>
<text x="714.16" y="374.2" textLength="108.79" lengthAdjust="spacingAndGlyphs">3700015</text>
<text x="988.17" y="333" textLength="95.94" lengthAdjust="spacingAndGlyphs">MC043</text>
<text x="1503.56" y="204.8" textLength="97.02" lengthAdjust="spacingAndGlyphs">MC032</text>
<text x="1562.96" y="238.4" textLength="112.02" lengthAdjust="spacingAndGlyphs">CD348-1</text>
<text x="1595.35" y="332.8" textLength="91.74" lengthAdjust="spacingAndGlyphs">MC741</text>
<text x="1547.97" y="386.1" textLength="93.19" lengthAdjust="spacingAndGlyphs">MC141</text>
<text x="1514.79" y="528.2" textLength="90.07" lengthAdjust="spacingAndGlyphs">CD624</text>
<text x="1064.32" y="576" textLength="107.07" lengthAdjust="spacingAndGlyphs">1400106</text>
<text x="1162.27" y="740.3" textLength="96.02" lengthAdjust="spacingAndGlyphs">MC750</text>
<text x="1514.76" y="740.3" textLength="73.42" lengthAdjust="spacingAndGlyphs">FS017</text>
<text x="2015.79" y="398.8" textLength="96.02" lengthAdjust="spacingAndGlyphs">MC072</text>
<text x="2291.12" y="406.8" textLength="94.56" lengthAdjust="spacingAndGlyphs">MC179</text>
<text x="1896.56" y="517.8" textLength="94.31" lengthAdjust="spacingAndGlyphs">MC105</text>
<text x="2305.36" y="535.8" textLength="96.1" lengthAdjust="spacingAndGlyphs">MC215</text>
<text x="1964.34" y="570.4" textLength="109.35" lengthAdjust="spacingAndGlyphs">2200065</text>
<text x="2284.05" y="570.4" textLength="109.52" lengthAdjust="spacingAndGlyphs">2200075</text>
<text x="1969.57" y="618.1" textLength="95.19" lengthAdjust="spacingAndGlyphs">MC268</text>
<text x="2286.41" y="618.1" textLength="86.25" lengthAdjust="spacingAndGlyphs">CP032</text>
<text x="316.47" y="349.4" textLength="97.24" lengthAdjust="spacingAndGlyphs">MC075</text>
<text x="59.27" y="391.4" textLength="96.02" lengthAdjust="spacingAndGlyphs">MC009</text>
<text x="316.47" y="392.7" textLength="97.24" lengthAdjust="spacingAndGlyphs">MC027</text>
<text x="59.27" y="430.4" textLength="96.02" lengthAdjust="spacingAndGlyphs">MC749</text>
<text x="332.26" y="453" textLength="92.16" lengthAdjust="spacingAndGlyphs">MC061</text>
<text x="332.24" y="493.9" textLength="96.84" lengthAdjust="spacingAndGlyphs">MC045</text>
<text x="59.66" y="591.2" textLength="95.61" lengthAdjust="spacingAndGlyphs">MC046</text>
<text x="47.06" y="630.8" textLength="109.2" lengthAdjust="spacingAndGlyphs">2200025</text>
<text x="47.06" y="676.2" textLength="109.2" lengthAdjust="spacingAndGlyphs">8700018</text>
<text x="361.56" y="588.3" textLength="96.14" lengthAdjust="spacingAndGlyphs">MC195</text>
<text x="361.53" y="621.1" textLength="92.54" lengthAdjust="spacingAndGlyphs">MC191</text>
<text x="361.56" y="662.6" textLength="96.13" lengthAdjust="spacingAndGlyphs">MC192</text>
<text x="361.59" y="699.3" textLength="94.82" lengthAdjust="spacingAndGlyphs">MC137</text>
<text x="360.59" y="737" textLength="94.82" lengthAdjust="spacingAndGlyphs">MC139</text>
</g>
<g class="b">
<text x="103.71" y="514" textLength="24.98" lengthAdjust="spacingAndGlyphs">3</text>
<text x="1347.35" y="519.3" textLength="43.42" lengthAdjust="spacingAndGlyphs">18</text>
<text x="1980.46" y="758.5" textLength="134.05" lengthAdjust="spacingAndGlyphs">MC742</text>
</g>
<g stroke="#333" stroke-width="2" fill="none">
<line x1="393.5" y1="1035.7" x2="393.5" y2="1346"/>
<line x1="804.2" y1="1035.7" x2="804.2" y2="1346"/>
<line x1="1215.9" y1="1035.7" x2="1215.9" y2="1346"/>
<line x1="1626.8" y1="1035.7" x2="1626.8" y2="1346"/>
<line x1="2037.6" y1="1035.7" x2="2037.6" y2="1346"/>
<line x1="392.5" y1="1035.7" x2="2038.6" y2="1035.7"/>
<line x1="392.5" y1="1185.8" x2="2038.6" y2="1185.8"/>
<line x1="392.5" y1="1247.4" x2="2038.6" y2="1247.4"/>
<line x1="392.5" y1="1307.6" x2="2038.6" y2="1307.6"/>
<line x1="392.5" y1="1344.3" x2="2038.6" y2="1344.3"/>
</g>
<g class="th">
<text x="939.52" y="1106.8" textLength="153" lengthAdjust="spacingAndGlyphs">CODICE</text>
<text x="872.95" y="1144.5" textLength="275.6" lengthAdjust="spacingAndGlyphs">1000085(230V)</text>
<text x="1344.94" y="1106.8" textLength="153.69" lengthAdjust="spacingAndGlyphs">CODICE</text>
<text x="1235.05" y="1144.5" textLength="374.98" lengthAdjust="spacingAndGlyphs">1000112(220V 60Hz)</text>
<text x="1761.65" y="1106.8" textLength="152.57" lengthAdjust="spacingAndGlyphs">CODICE</text>
<text x="1695.83" y="1144.5" textLength="275.43" lengthAdjust="spacingAndGlyphs">1000113(120V)</text>
</g>
<g class="td">
<text x="580.54" y="1231.8" textLength="41.32" lengthAdjust="spacingAndGlyphs">13</text>
<text x="942.82" y="1231.8" textLength="133.82" lengthAdjust="spacingAndGlyphs">MC010</text>
<text x="1323.36" y="1232.3" textLength="194.09" lengthAdjust="spacingAndGlyphs">MC010/60</text>
<text x="1723.81" y="1232.3" textLength="217.05" lengthAdjust="spacingAndGlyphs">MC010/110</text>
<text x="578.66" y="1292.5" textLength="43.23" lengthAdjust="spacingAndGlyphs">18</text>
<text x="936.01" y="1292.5" textLength="149.58" lengthAdjust="spacingAndGlyphs">1000100</text>
<text x="1348.07" y="1292.5" textLength="149.9" lengthAdjust="spacingAndGlyphs">1000100</text>
<text x="1759.6" y="1292.5" textLength="148.67" lengthAdjust="spacingAndGlyphs">1000108</text>
<text x="586.63" y="1340.4" textLength="25.06" lengthAdjust="spacingAndGlyphs">3</text>
<text x="942.95" y="1340.4" textLength="132.16" lengthAdjust="spacingAndGlyphs">MC029</text>
<text x="1354.03" y="1340.4" textLength="133.77" lengthAdjust="spacingAndGlyphs">MC029</text>
<text x="1723.81" y="1340.4" textLength="217.05" lengthAdjust="spacingAndGlyphs">MC029/110</text>
</g>
</svg>
</body></html>
